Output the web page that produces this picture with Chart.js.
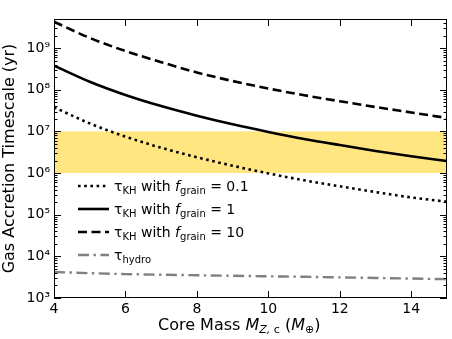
<!DOCTYPE html>
<html><head><meta charset="utf-8">
<script src="https://cdn.jsdelivr.net/npm/chart.js@4/dist/chart.umd.min.js"></script>
<style>html,body{margin:0;padding:0;background:#fff}#wrap{width:452px;height:339px}</style>
</head><body><div id="wrap"><canvas id="c" width="452" height="339"></canvas></div>
<script>
const coreMass = [4, 5, 6, 7, 8, 9, 10, 11, 12, 13, 14, 15];
const tauKH_f0p1 = [3.8e7, 1.56e7, 7.5e6, 4.05e6, 2.4e6, 1.5e6, 9.8e5, 6.7e5, 4.8e5, 3.5e5, 2.6e5, 2.05e5];
const tauKH_f1 = [3.8e8, 1.56e8, 7.5e7, 4.05e7, 2.38e7, 1.48e7, 9.7e6, 6.6e6, 4.7e6, 3.4e6, 2.53e6, 1.95e6];
const tauKH_f10 = [4.3e9, 1.76e9, 8.5e8, 4.6e8, 2.6e8, 1.62e8, 1.07e8, 7.4e7, 5.3e7, 3.85e7, 2.85e7, 2.1e7];
const tauHydro = [4220, 3950, 3750, 3620, 3520, 3420, 3320, 3230, 3130, 3030, 2930, 2830];
const bandRange = [1e6, 1e7];
const yMajorTicks = [1e3, 1e4, 1e5, 1e6, 1e7, 1e8, 1e9];
const xTicks = [4, 6, 8, 10, 12, 14];
const legendLabels = [
  {sub: 'KH', f: '0.1'},
  {sub: 'KH', f: '1'},
  {sub: 'KH', f: '10'},
  {sub: 'hydro', f: null}
];

const FONT = '"DejaVu Sans", sans-serif';
const SUP = {'0':'⁰','1':'¹','2':'²','3':'³','4':'⁴','5':'⁵','6':'⁶','7':'⁷','8':'⁸','9':'⁹'};

const toPts = arr => arr.map((v, i) => ({x: coreMass[i], y: v}));

const styles = [
  {color: '#000', width: 2.6, dash: [2.6, 3.6]},
  {color: '#000', width: 2.6, dash: []},
  {color: '#000', width: 2.6, dash: [9, 4.5]},
  {color: '#808080', width: 2.4, dash: [11, 4.5, 2.4, 4.5]}
];

const bandPlugin = {
  id: 'band',
  beforeDatasetsDraw(chart) {
    const {ctx, chartArea: a, scales: {y}} = chart;
    const t = y.getPixelForValue(bandRange[1]), b = y.getPixelForValue(bandRange[0]);
    ctx.save();
    ctx.fillStyle = 'rgb(255,230,128)';
    ctx.fillRect(a.left, t, a.right - a.left, b - t);
    ctx.restore();
  }
};

function drawRich(ctx, x, y, runs) {
  for (const r of runs) {
    ctx.font = r.font;
    ctx.fillText(r.t, x, y + (r.dy || 0));
    x += ctx.measureText(r.t).width;
  }
  return x;
}

const decorPlugin = {
  id: 'decor',
  afterDatasetsDraw(chart) {
    const {ctx, chartArea: a, scales: {x, y}} = chart;
    ctx.save();
    // frame
    ctx.strokeStyle = '#000';
    ctx.lineWidth = 1;
    ctx.strokeRect(a.left + 0.5, a.top + 0.5, a.right - a.left - 1, a.bottom - a.top - 1);
    // x ticks inside, top & bottom
    ctx.beginPath();
    for (const v of xTicks) {
      const px = Math.round(x.getPixelForValue(v)) + 0.5;
      ctx.moveTo(px, a.bottom); ctx.lineTo(px, a.bottom - 7);
      ctx.moveTo(px, a.top); ctx.lineTo(px, a.top + 7);
    }
    // y ticks inside, left & right
    for (let e = 3; e <= 9; e++) {
      for (let m = 1; m <= 9; m++) {
        const v = m * Math.pow(10, e);
        if (v > y.max) break;
        const py = Math.round(y.getPixelForValue(v)) + 0.5;
        const len = m === 1 ? 7 : 3.5;
        ctx.moveTo(a.left, py); ctx.lineTo(a.left + len, py);
        ctx.moveTo(a.right, py); ctx.lineTo(a.right - len, py);
      }
    }
    ctx.stroke();

    // legend
    const rowsY = [186, 209, 232, 255];
    ctx.fillStyle = '#000';
    ctx.textBaseline = 'middle';
    legendLabels.forEach((l, i) => {
      const s = styles[i];
      ctx.beginPath();
      ctx.strokeStyle = s.color;
      ctx.lineWidth = s.width;
      ctx.setLineDash(s.dash);
      ctx.moveTo(78, rowsY[i]); ctx.lineTo(109, rowsY[i]);
      ctx.stroke();
      ctx.setLineDash([]);
      ctx.textBaseline = 'alphabetic';
      const base = rowsY[i] + 5;
      const runs = [
        {t: 'τ', font: '14px ' + FONT},
        {t: l.sub, font: '10px ' + FONT, dy: 3}
      ];
      if (l.f !== null) {
        runs.push({t: ' with ', font: '14px ' + FONT});
        runs.push({t: 'f', font: 'italic 14px ' + FONT});
        runs.push({t: 'grain', font: '10px ' + FONT, dy: 3});
        runs.push({t: ' = ' + l.f, font: '14px ' + FONT});
      }
      drawRich(ctx, 114, base, runs);
    });

    // x axis title
    ctx.textBaseline = 'alphabetic';
    drawRich(ctx, 158, 330, [
      {t: 'Core Mass ', font: '16px ' + FONT},
      {t: 'M', font: 'italic 16px ' + FONT},
      {t: 'Z,', font: 'italic 11px ' + FONT, dy: 3},
      {t: ' c', font: '11px ' + FONT, dy: 3},
      {t: ' (', font: '16px ' + FONT},
      {t: 'M', font: 'italic 16px ' + FONT},
      {t: '⊕', font: '11px ' + FONT, dy: 3},
      {t: ')', font: '16px ' + FONT}
    ]);
    ctx.restore();
  }
};

const datasets = [tauKH_f0p1, tauKH_f1, tauKH_f10, tauHydro].map((d, i) => ({
  data: toPts(d),
  borderColor: styles[i].color,
  borderWidth: styles[i].width,
  borderDash: styles[i].dash,
  borderCapStyle: 'butt',
  pointRadius: 0,
  fill: false,
  tension: 0,
  cubicInterpolationMode: 'monotone'
}));

new Chart(document.getElementById('c'), {
  type: 'line',
  data: {datasets},
  options: {
    responsive: false,
    animation: false,
    events: [],
    layout: {padding: {left: 0, top: 19, right: 5, bottom: 0}},
    plugins: {legend: {display: false}, tooltip: {enabled: false}},
    scales: {
      x: {
        type: 'linear', min: 4, max: 15,
        grid: {display: false, drawTicks: false},
        border: {display: false},
        afterBuildTicks: s => { s.ticks = xTicks.map(v => ({value: v})); },
        afterFit: s => { s.height = 41; },
        ticks: {color: '#000', padding: 3, maxRotation: 0, autoSkip: false,
          font: {family: FONT, size: 14}, callback: v => String(v)}
      },
      y: {
        type: 'logarithmic', min: 1e3, max: 5e9,
        grid: {display: false, drawTicks: false},
        border: {display: false},
        afterBuildTicks: s => { s.ticks = yMajorTicks.map(v => ({value: v})); },
        afterFit: s => { s.width = 54; },
        ticks: {color: '#000', padding: 4, autoSkip: false,
          font: {family: FONT, size: 14},
          callback: v => '10' + String(Math.round(Math.log10(v))).split('').map(c => SUP[c]).join('')},
        title: {display: true, text: 'Gas Accretion Timescale (yr)', color: '#000',
          font: {family: FONT, size: 16}, padding: {top: 0, bottom: 0}}
      }
    }
  },
  plugins: [bandPlugin, decorPlugin]
});
</script></body></html>
